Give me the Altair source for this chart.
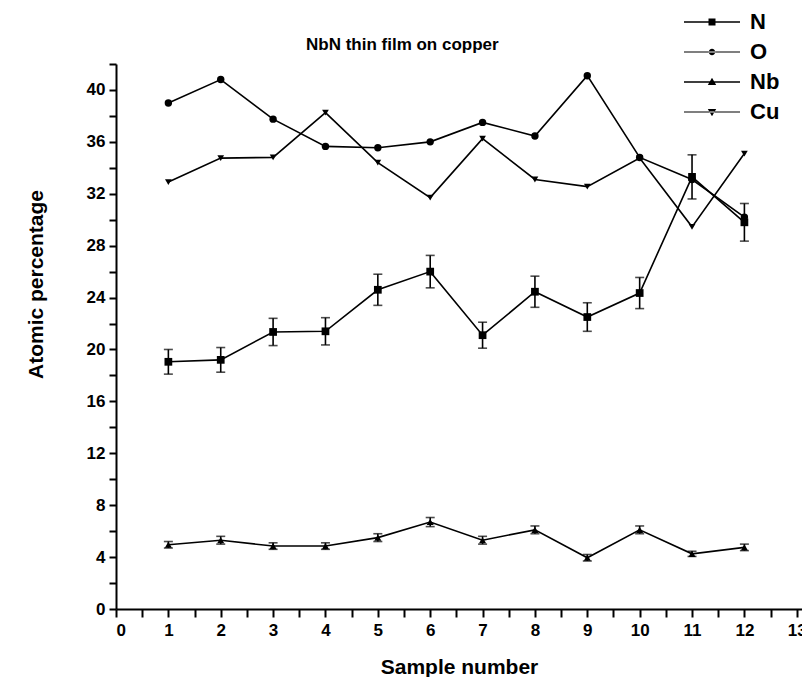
import altair as alt
import pandas as pd

FONT = "Liberation Sans"

samples = [1, 2, 3, 4, 5, 6, 7, 8, 9, 10, 11, 12]
elements = ["N", "O", "Nb", "Cu"]

N_vals = [19.05, 19.2, 21.35, 21.4, 24.6, 26.0, 21.1, 24.45, 22.5, 24.35, 33.3, 29.8]
N_err = [0.95, 0.95, 1.05, 1.05, 1.2, 1.25, 1.0, 1.2, 1.1, 1.2, 1.7, 1.45]
O_vals = [39.0, 40.8, 37.75, 35.65, 35.55, 36.0, 37.5, 36.45, 41.1, 34.8, 33.1, 30.2]
Nb_vals = [4.95, 5.3, 4.85, 4.85, 5.5, 6.7, 5.3, 6.1, 3.95, 6.1, 4.25, 4.75]
Nb_err = [0.25, 0.3, 0.25, 0.25, 0.3, 0.35, 0.3, 0.3, 0.25, 0.3, 0.2, 0.25]
Cu_vals = [32.9, 34.75, 34.8, 38.25, 34.4, 31.7, 36.25, 33.1, 32.55, 34.75, 29.45, 35.1]

x_ticks = [i * 0.5 for i in range(27)]
y_ticks = list(range(0, 43, 2))

series = {"N": (N_vals, N_err), "O": (O_vals, None), "Nb": (Nb_vals, Nb_err), "Cu": (Cu_vals, None)}
rows = []
for el in elements:
    vals, errs = series[el]
    for i, s in enumerate(samples):
        e = errs[i] if errs else 0.0
        rows.append({"sample": s, "element": el, "value": vals[i], "err": e,
                     "lo": vals[i] - e, "hi": vals[i] + e})
df = pd.DataFrame(rows)
err_df = df[df["err"] > 0]

xscale = alt.Scale(domain=[0, 13.1], nice=False, zero=False)
yscale = alt.Scale(domain=[0, 42], nice=False)
xaxis = alt.Axis(values=x_ticks, labelExpr="datum.value % 1 == 0 ? format(datum.value, 'd') : ''",
                 title="Sample number", titleY=64, titleBaseline="alphabetic",
                 labelPadding=5, tickSize=8)
yaxis = alt.Axis(values=y_ticks, labelExpr="datum.value % 4 == 0 ? format(datum.value, 'd') : ''",
                 title="Atomic percentage", titleX=-80, titleY=220, titleAngle=270,
                 titleAlign="center", titleBaseline="middle", labelPadding=4, tickSize=7)

X = alt.X("sample:Q", scale=xscale, axis=xaxis)

lines = alt.Chart(df).mark_line(color="black", strokeWidth=1.6).encode(
    x=X,
    y=alt.Y("value:Q", scale=yscale, axis=yaxis),
    detail="element:N",
)

points = alt.Chart(df).mark_point(filled=True, color="black", opacity=1).encode(
    x=X,
    y=alt.Y("value:Q", scale=yscale, axis=yaxis),
    shape=alt.Shape("element:N", scale=alt.Scale(domain=elements, range=["square", "circle", "triangle-up", "triangle-down"]), legend=None),
    size=alt.Size("element:N", scale=alt.Scale(domain=elements, range=[60, 45, 75, 60]), legend=None),
)

bars = alt.Chart(err_df).mark_rule(color="black", strokeWidth=1.6).encode(
    x=X,
    y=alt.Y("lo:Q", scale=yscale, axis=yaxis),
    y2="hi:Q",
)
caps_lo = alt.Chart(err_df).mark_tick(color="black", orient="horizontal", size=9, thickness=1.6).encode(
    x=X, y=alt.Y("lo:Q", scale=yscale, axis=yaxis))
caps_hi = alt.Chart(err_df).mark_tick(color="black", orient="horizontal", size=9, thickness=1.6).encode(
    x=X, y=alt.Y("hi:Q", scale=yscale, axis=yaxis))

legend_paths = [
    "M-2.8,-0.08 L2.8,-0.08 L2.8,0.08 L-2.8,0.08 Z M-0.35,-0.35 L0.35,-0.35 L0.35,0.35 L-0.35,0.35 Z",
    "M-2.8,-0.05 L2.8,-0.05 L2.8,0.05 L-2.8,0.05 Z M-0.32,0 A0.32,0.32 0 1,0 0.32,0 A0.32,0.32 0 1,0 -0.32,0 Z",
    "M-2.8,-0.07 L2.8,-0.07 L2.8,0.07 L-2.8,0.07 Z M0,-0.42 L0.42,0.3 L-0.42,0.3 Z",
    "M-2.8,-0.05 L2.8,-0.05 L2.8,0.05 L-2.8,0.05 Z M0,0.42 L0.42,-0.3 L-0.42,-0.3 Z",
]

legend_layer = alt.Chart(df).mark_point(filled=True, color="black", opacity=0).encode(
    x=X,
    y=alt.Y("value:Q", scale=yscale, axis=yaxis),
    shape=alt.Shape("element:N", scale=alt.Scale(domain=elements, range=legend_paths),
                    legend=alt.Legend(title=None, orient="none", legendX=585, legendY=-53,
                                      symbolSize=400, symbolFillColor="black", symbolStrokeColor="black",
                                      symbolStrokeWidth=0.4, symbolOpacity=1,
                                      labelFont=FONT, labelFontSize=22, labelFontWeight="bold",
                                      labelColor="black", labelOffset=27, rowPadding=8, padding=0)),
)

chart = alt.layer(lines, bars, caps_lo, caps_hi, points, legend_layer).resolve_scale(
    shape="independent"
).properties(
    width=686,
    height=545,
    title=alt.TitleParams("NbN thin film on copper", anchor="start", frame="group", dx=190, dy=70,
                          offset=14, baseline="alphabetic", fontSize=17, fontWeight="bold",
                          font=FONT, color="black"),
    autosize=alt.AutoSizeParams(type="none"),
    padding={"left": 108, "top": 56, "right": 0, "bottom": 68},
).configure_view(stroke=None).configure_axis(
    grid=False,
    domainColor="black", domainWidth=2,
    tickColor="black", tickWidth=2,
    labelFont=FONT, labelFontSize=17, labelFontWeight="bold", labelColor="black",
    titleFont=FONT, titleFontSize=21, titleFontWeight="bold", titleColor="black",
)

chart.save("out.html", embed_options={"renderer": "svg", "actions": False})
